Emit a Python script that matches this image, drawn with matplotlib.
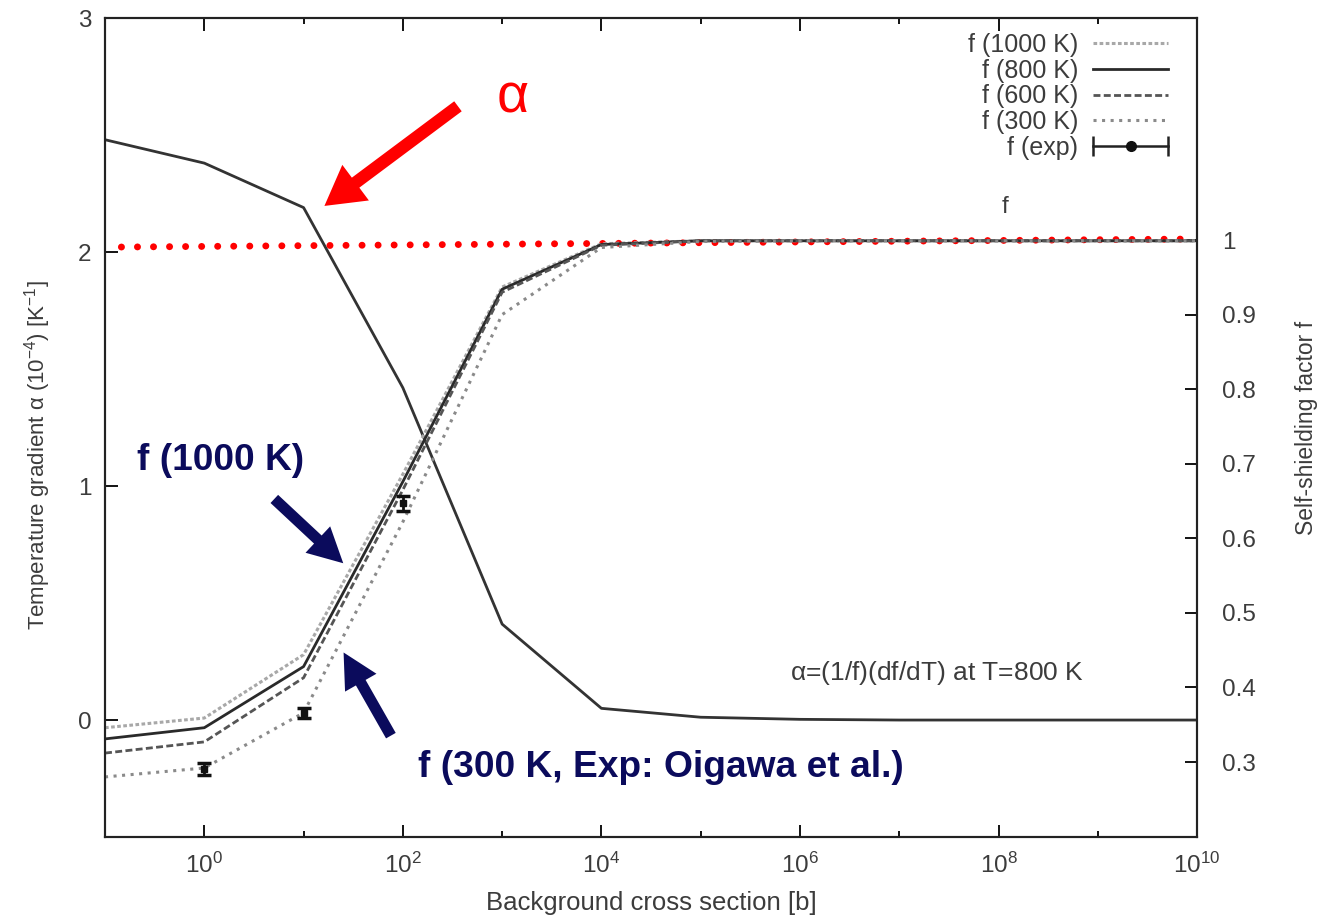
import numpy as np
import matplotlib
matplotlib.use("Agg")
import matplotlib.pyplot as plt
from matplotlib.lines import Line2D
from matplotlib.patches import FancyArrowPatch
from matplotlib.ticker import NullFormatter
from matplotlib.legend_handler import HandlerLine2D, HandlerTuple

plt.rcParams['font.family'] = ['Liberation Sans', 'DejaVu Sans']
plt.rcParams['mathtext.fontset'] = 'custom'
plt.rcParams['mathtext.rm'] = 'Liberation Sans'
plt.rcParams['mathtext.it'] = 'Liberation Sans:italic'
plt.rcParams['mathtext.default'] = 'regular'

# ── Data ─────────────────────────────────────────────────────────────────────
sigma0 = [1e-1, 1e0, 1e1, 1e2, 1e3, 1e4, 1e5, 1e6, 1e7, 1e8, 1e9, 1e10]

alpha_800 = [2.48, 2.38, 2.19, 1.42, 0.41, 0.05, 0.012, 0.003, 0.0, 0.0, 0.0, 0.0]

f_1000 = [0.346, 0.359, 0.444, 0.686, 0.937, 0.995, 0.999, 0.999, 0.999, 0.999, 0.999, 0.999]
f_800  = [0.331, 0.346, 0.428, 0.676, 0.934, 0.994, 0.999, 0.999, 0.999, 0.999, 0.999, 0.999]
f_600  = [0.312, 0.327, 0.413, 0.665, 0.930, 0.993, 0.999, 0.999, 0.999, 0.999, 0.999, 0.999]
f_300  = [0.280, 0.292, 0.366, 0.622, 0.900, 0.990, 0.998, 0.999, 0.999, 0.999, 0.999, 0.999]

exp_sigma0 = [1e0, 1e1, 1e2]
exp_f      = [0.291, 0.366, 0.647]
exp_err    = [0.008, 0.007, 0.010]

x_major = [1e0, 1e2, 1e4, 1e6, 1e8, 1e10]
x_major_labels = [r'$10^{0}$', r'$10^{2}$', r'$10^{4}$', r'$10^{6}$', r'$10^{8}$', r'$10^{10}$']
x_minor = [1e1, 1e3, 1e5, 1e7, 1e9]
alpha_ticks = [0, 1, 2, 3]
f_ticks = [0.3, 0.4, 0.5, 0.6, 0.7, 0.8, 0.9, 1.0]
f_tick_labels = ['0.3', '0.4', '0.5', '0.6', '0.7', '0.8', '0.9', '1']

TXT = '#3c3c3c'
NAVY = '#0b0b5c'
RED = '#ff0000'

# ── Figure ───────────────────────────────────────────────────────────────────
fig = plt.figure(figsize=(13.21, 9.16), dpi=100)
ax = fig.add_axes([0.0795, 0.0862, 0.8267, 0.8941])
ax2 = ax.twinx()

for a in (ax, ax2):
    for s in a.spines.values():
        s.set_linewidth(1.5)
        s.set_color('#222222')

# alpha curve (left axis)
ax.plot(sigma0, alpha_800, color='#333333', lw=2.0, zorder=3)

ax.set_xscale('log')
ax.set_xlim(1e-1, 1e10)
ax.set_ylim(-0.5, 3)
ax.set_xticks(x_major)
ax.set_xticklabels(x_major_labels)
ax.set_xticks(x_minor, minor=True)
ax.xaxis.set_minor_formatter(NullFormatter())
ax.set_yticks(alpha_ticks)
ax.set_yticklabels([str(t) for t in alpha_ticks])
ax.tick_params(axis='x', which='major', direction='in', length=9, width=1.3,
               top=True, labelsize=17.5, labelcolor=TXT, pad=11)
ax.tick_params(axis='x', which='minor', direction='in', length=4, width=1.3,
               top=True)
ax.tick_params(axis='y', which='major', direction='in', length=9, width=1.3,
               right=False, labelsize=17.5, labelcolor=TXT, pad=10)
ax.set_xlabel('Background cross section [b]', fontsize=18.5, color=TXT)
ax.xaxis.set_label_coords(0.5, -0.066)
ax.set_ylabel(r'Temperature gradient $\alpha$ (10$^{-4}$) [K$^{-1}$]',
              fontsize=16, color=TXT)
ax.yaxis.set_label_coords(-0.048, 0.466)

# self-shielding factors (right axis)
ax2.set_ylim(0.1994, 1.2977)
l1000, = ax2.plot(sigma0, f_1000, color='#a8a8a8', lw=2.2, ls=(0, (1.2, 0.8)))
l800,  = ax2.plot(sigma0, f_800, color='#2a2a2a', lw=2.0)
l600,  = ax2.plot(sigma0, f_600, color='#555555', lw=2.0, ls=(0, (2.5, 1.2)))
l300,  = ax2.plot(sigma0, f_300, color='#8a8a8a', lw=2.2, ls=(0, (1.0, 1.8)))
ax2.errorbar(exp_sigma0, exp_f, yerr=exp_err, fmt='s', color='#111111',
             ms=5, capsize=5, elinewidth=2, capthick=2.5, zorder=4)
ax2.set_yticks(f_ticks)
ax2.set_yticklabels(f_tick_labels)
ax2.tick_params(axis='y', direction='in', length=9, width=1.3,
                labelsize=17.5, labelcolor=TXT, pad=18)
ax2.set_ylabel('Self-shielding factor f', fontsize=16.5, color=TXT)
ax2.yaxis.set_label_coords(1.0897, 0.499)

# legend, gnuplot style: label on the left, sample on the right
exp_line = Line2D([], [], color='#222222', lw=1.8, marker='|', ms=14, mew=1.8)
exp_dot = Line2D([], [], color='#111111', ls='none', marker='o', ms=7)
handles = [l1000, l800, l600, l300, (exp_line, exp_dot)]
labels = ['f (1000 K)', 'f (800 K)', 'f (600 K)', 'f (300 K)', 'f (exp)']
leg = ax2.legend(handles, labels, loc='upper right', markerfirst=False,
                 frameon=False, fontsize=18, handlelength=3.0,
                 handletextpad=0.6, labelspacing=0.07, borderpad=0,
                 borderaxespad=0, bbox_to_anchor=(0.9734, 0.982),
                 handler_map={exp_line: HandlerLine2D(numpoints=2, marker_pad=0),
                              exp_dot: HandlerLine2D(numpoints=1),
                              tuple: HandlerTuple(ndivide=1)})
for t in leg.get_texts():
    t.set_color(TXT)

ax.text(0.824, 0.7692, 'f', transform=ax.transAxes, fontsize=17.5,
        color=TXT, ha='center', va='center')
ax.text(0.6273, 0.2002, r'$\alpha$=(1/f)(df/dT) at T=800 K',
        transform=ax.transAxes, fontsize=19, color=TXT, ha='left', va='center')

# red guide at f = 1
ax.plot([0.015, 0.997], [0.7204, 0.7302], transform=ax.transAxes, color=RED,
        lw=5, ls=(0, (0.01, 2.3)), dash_capstyle='round', zorder=5,
        clip_on=False)

# red arrow pointing at alpha
ax.add_patch(FancyArrowPatch((378, 2.63), (15.4, 2.19),
                             arrowstyle='simple,head_width=32,head_length=28,tail_width=9',
                             mutation_scale=1, color=RED, lw=0, zorder=6))
ax.text(0.3727, 0.9035, r'$\alpha$', transform=ax.transAxes, fontsize=40,
        color=RED, ha='center', va='center')

# navy arrows and captions
ax.add_patch(FancyArrowPatch((4.84, 0.953), (26.3, 0.662),
                             arrowstyle='simple,head_width=26,head_length=25,tail_width=8',
                             mutation_scale=1, color=NAVY, lw=0, zorder=6))
ax.add_patch(FancyArrowPatch((78.2, -0.077), (24.5, 0.299),
                             arrowstyle='simple,head_width=26,head_length=25,tail_width=8',
                             mutation_scale=1, color=NAVY, lw=0, zorder=6))
ax.text(0.0293, 0.460, 'f (1000 K)', transform=ax.transAxes, fontsize=26.7,
        fontweight='bold', color=NAVY, ha='left', va='center')
ax.text(0.2866, 0.0855, 'f (300 K, Exp: Oigawa et al.)', transform=ax.transAxes,
        fontsize=26.7, fontweight='bold', color=NAVY, ha='left', va='center')

fig.savefig('out.png', dpi=100)
